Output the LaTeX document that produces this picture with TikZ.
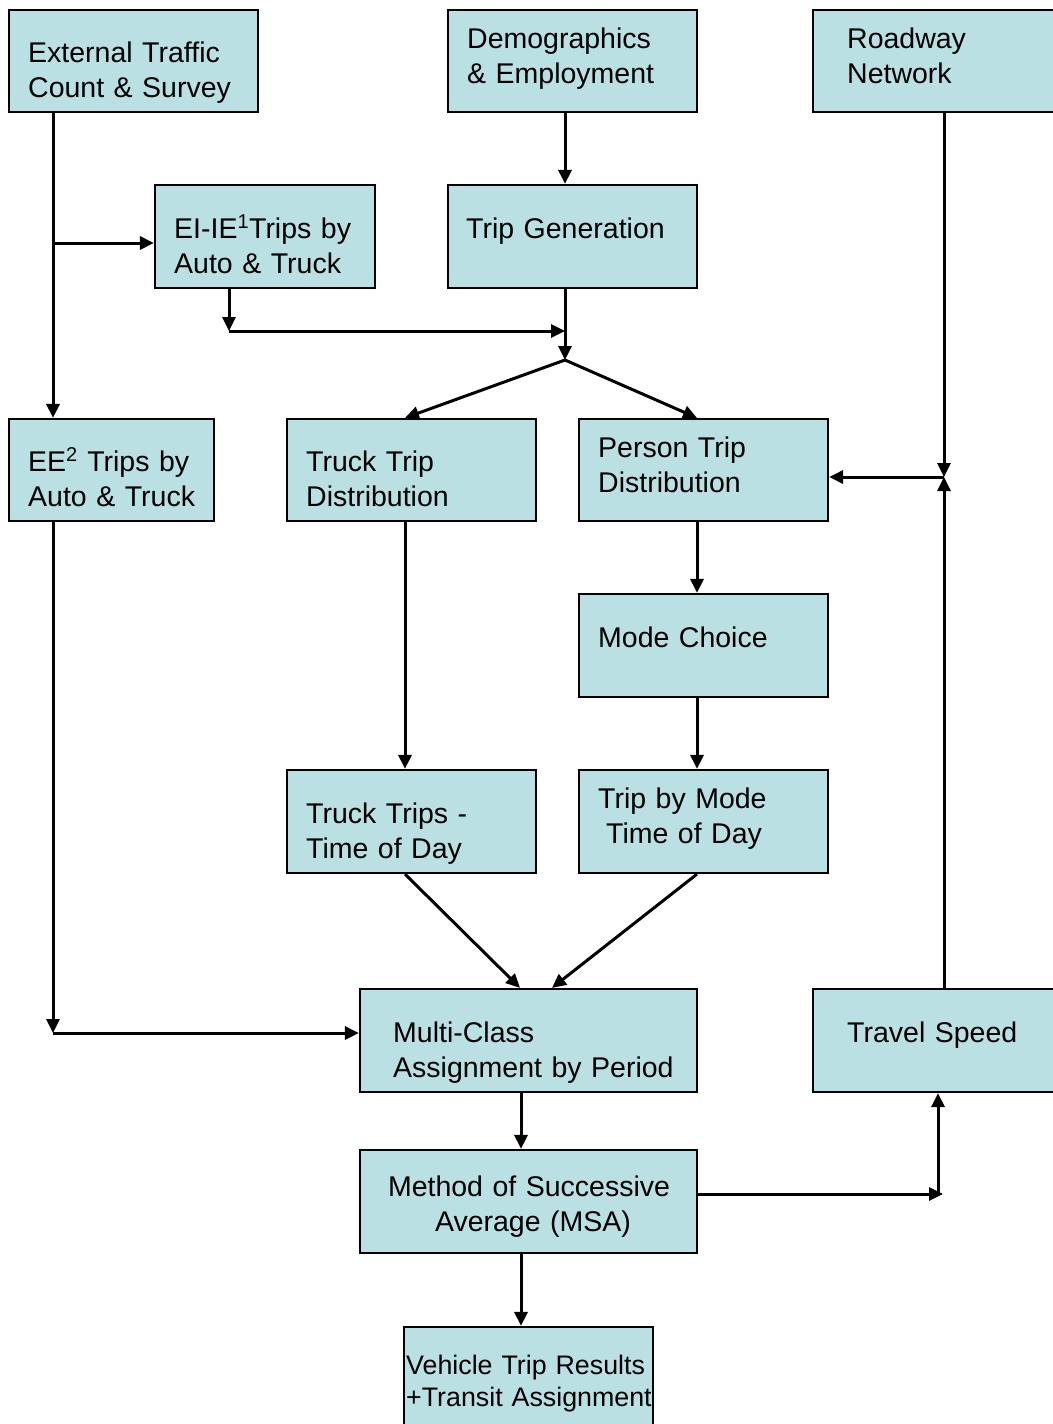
\documentclass[tikz,border=0pt]{standalone}
\usepackage{fontspec}
\setmainfont{Liberation Sans}
\usetikzlibrary{arrows.meta}
\definecolor{boxfill}{HTML}{BBE0E3}
\tikzset{
  box/.style={draw=black, line width=2.2pt, fill=boxfill, inner sep=0pt, rectangle},
  txt/.style={inner sep=0pt, anchor=base west, align=left, text width=#1,
    font=\fontsize{28.5}{35}\selectfont},
  txt/.default=300pt,
  arr/.style={line width=3pt, -{Triangle[length=14pt,width=13pt]}}
}
\begin{document}
\begin{tikzpicture}[x=1pt,y=-1pt]
\useasboundingbox (0,0) rectangle (1052,1424);
% boxes
\node[box, minimum width=249pt, minimum height=102pt] (ext) at (133.5,61) {};
\node[box, minimum width=249pt, minimum height=102pt] (demo) at (572.5,61) {};
\node[box, minimum width=249pt, minimum height=102pt] (road) at (937.5,61) {};
\node[box, minimum width=220pt, minimum height=103pt] (eiie) at (265,236.5) {};
\node[box, minimum width=249pt, minimum height=103pt] (tripgen) at (572.5,236.5) {};
\node[box, minimum width=205pt, minimum height=102pt] (ee) at (111.5,470) {};
\node[box, minimum width=249pt, minimum height=102pt] (truckdist) at (411.5,470) {};
\node[box, minimum width=249pt, minimum height=102pt] (persondist) at (703.5,470) {};
\node[box, minimum width=249pt, minimum height=103pt] (mode) at (703.5,645.5) {};
\node[box, minimum width=249pt, minimum height=103pt] (trucktod) at (411.5,821.5) {};
\node[box, minimum width=249pt, minimum height=103pt] (tripmode) at (703.5,821.5) {};
\node[box, minimum width=337pt, minimum height=103pt] (mca) at (528.5,1040.5) {};
\node[box, minimum width=249pt, minimum height=103pt] (travel) at (937.5,1040.5) {};
\node[box, minimum width=337pt, minimum height=103pt] (msa) at (528.5,1201.5) {};
\node[box, minimum width=249pt, minimum height=103pt] (vehicle) at (528.5,1378.5) {};
% texts
\node[txt] (ext-t) at (28,62) {External Traffic\\Count \& Survey};
\node[txt] (demo-t) at (467,48) {Demographics\\\& Employment};
\node[txt] (road-t) at (847,48) {Roadway\\Network};
\node[txt] (eiie-t) at (174,238) {EI-IE\textsuperscript{1}Trips by\\Auto \& Truck};
\node[txt] (tripgen-t) at (466,238) {Trip Generation};
\node[txt] (ee-t) at (28,471) {EE\textsuperscript{2} Trips by\\Auto \& Truck};
\node[txt] (truckdist-t) at (306,471) {Truck Trip\\Distribution};
\node[txt] (persondist-t) at (598,457) {Person Trip\\Distribution};
\node[txt] (mode-t) at (598,647) {Mode Choice};
\node[txt] (trucktod-t) at (306,823) {Truck Trips -\\Time of Day};
\node[txt] (tripmode-t) at (598,808) {Trip by Mode\\\hspace*{8pt}Time of Day};
\node[txt] (mca-t) at (393,1042) {Multi-Class\\Assignment by Period};
\node[txt] (travel-t) at (847,1042) {Travel Speed};
\node[inner sep=0pt, anchor=base, align=center, text width=337pt, font=\fontsize{28.5}{35}\selectfont] (msa-t) at (529,1196) {Method of Successive\\\hspace*{8pt}Average (MSA)};
\node[inner sep=0pt, anchor=base west, align=left, text width=300pt, font=\fontsize{26.8}{32}\selectfont] (vehicle-t) at (406,1374) {Vehicle Trip Results\\+Transit Assignment};
% junction coordinates
\coordinate (jA) at (53,243);
\coordinate (jB) at (565,331);
\coordinate (jC) at (565,360);
\coordinate (jD) at (229,331);
\coordinate (jE) at (944,477);
\coordinate (jF) at (53,1033);
\coordinate (jG) at (943,1194);
\coordinate (jH) at (938,1194);
\coordinate (tx) at (405,0);
\coordinate (px) at (697,0);
\coordinate (m1) at (520,0);
\coordinate (m2) at (552,0);
\coordinate (mx) at (521,0);
% connectors
\draw[arr] (ext.south -| jA) -- (ee.north -| jA);
\draw[arr] (jA) -- (eiie.west |- jA);
\draw[arr] (demo.south -| jB) -- (tripgen.north -| jB);
\draw[arr] (eiie.south -| jD) -- (jD);
\draw[arr] (jD) -- (jB);
\draw[arr] (tripgen.south -| jC) -- (jC);
\draw[arr] (jC) -- (truckdist.north -| tx);
\draw[arr] (jC) -- (persondist.north -| px);
\draw[arr] (road.south -| jE) -- (jE);
\draw[arr] (travel.north -| jE) -- (jE);
\draw[arr] (jE) -- (persondist.east |- jE);
\draw[arr] (persondist.south -| px) -- (mode.north -| px);
\draw[arr] (mode.south -| px) -- (tripmode.north -| px);
\draw[arr] (truckdist.south -| tx) -- (trucktod.north -| tx);
\draw[arr] (trucktod.south -| tx) -- (mca.north -| m1);
\draw[arr] (tripmode.south -| px) -- (mca.north -| m2);
\draw[arr] (ee.south -| jF) -- (jF);
\draw[arr] (jF) -- (mca.west |- jF);
\draw[arr] (mca.south -| mx) -- (msa.north -| mx);
\draw[arr] (msa.south -| mx) -- (vehicle.north -| mx);
\draw[arr] (msa.east |- jG) -- (jG);
\draw[arr] (jH) -- (travel.south -| jH);
\end{tikzpicture}
\end{document}
